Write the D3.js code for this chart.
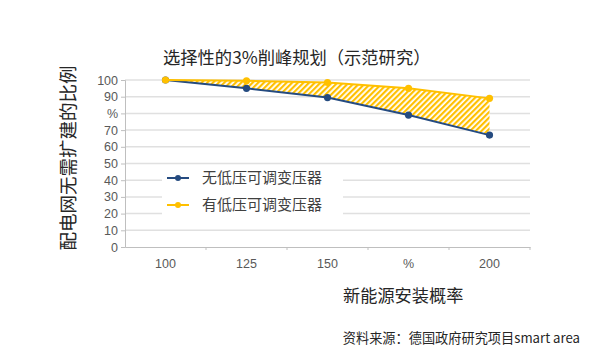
<!DOCTYPE html>
<html><head><meta charset="utf-8">
<script src="https://cdn.jsdelivr.net/npm/d3@7"></script>
<style>body{margin:0;background:#fff;}svg{display:block;font-family:"Noto Sans CJK SC","Liberation Sans",sans-serif;}</style>
</head><body>
<script>
const categories = ["100","125","150","%","200"];
const seriesNames = ["无低压可调变压器","有低压可调变压器"];
const noTransformer = [100, 95, 89.5, 79, 67];
const withTransformer = [100, 99.5, 98.5, 95, 89];
const yTicks = [0,10,20,30,40,50,60,70,80,90,100];
const yTickLabels = ["0","10","20","30","40","50","60","70","%","90","100"];

const W=600,H=361;
const svg=d3.select("body").append("svg").attr("width",W).attr("height",H);
const defs=svg.append("defs");
const pat=defs.append("pattern").attr("id","hatch").attr("patternUnits","userSpaceOnUse")
  .attr("width",4).attr("height",4).attr("patternTransform","rotate(45)");
pat.append("rect").attr("width",4).attr("height",4).attr("fill","#fff");
pat.append("rect").attr("width",2.2).attr("height",4).attr("fill","#FFC000");

const x=d3.scaleBand().domain(categories).range([125,530]);
const y=d3.scaleLinear().domain([0,100]).range([247,80]);
const cx=d=>x(d)+x.bandwidth()/2;

// gridlines
svg.append("g").selectAll("line").data(yTicks.filter(t=>t>0)).join("line")
  .attr("x1",125).attr("x2",530).attr("y1",d=>y(d)).attr("y2",d=>y(d))
  .attr("stroke","#e0e0e0").attr("stroke-width",1.5);

// y axis
const yAxis=d3.axisLeft(y).tickValues(yTicks).tickSize(4).tickFormat((d,i)=>yTickLabels[i]);
const gy=svg.append("g").attr("transform","translate(125,0)").call(yAxis);
gy.select(".domain").attr("stroke","#bfbfbf");
gy.selectAll(".tick line").attr("stroke","#bfbfbf");
gy.selectAll("text").attr("fill","#595959").attr("font-size",12.5).attr("font-family","Liberation Sans, Arial, sans-serif").attr("x",-7);

// x axis
const xAxis=d3.axisBottom(x).tickSize(0).tickPadding(12);
const gx=svg.append("g").attr("transform","translate(0,247)").call(xAxis);
gx.select(".domain").attr("stroke","#bfbfbf");
gx.selectAll("text").attr("fill","#595959").attr("font-size",12.5).attr("font-family","Liberation Sans, Arial, sans-serif");
gx.append("g").selectAll("line").data(categories).join("line")
  .attr("x1",d=>x(d)+x.bandwidth()).attr("x2",d=>x(d)+x.bandwidth()).attr("y1",0).attr("y2",3)
  .attr("stroke","#bfbfbf");

// area between
const area=d3.area().x((d,i)=>cx(categories[i])).y0((d,i)=>y(noTransformer[i])).y1(d=>y(d));
svg.append("path").datum(withTransformer).attr("d",area).attr("fill","url(#hatch)");

const line=d3.line().x((d,i)=>cx(categories[i])).y(d=>y(d));
const colors=["#254B80","#FFC000"];
[noTransformer,withTransformer].forEach((s,k)=>{
  svg.append("path").datum(s).attr("d",line).attr("fill","none").attr("stroke",colors[k]).attr("stroke-width",2);
  svg.append("g").selectAll("circle").data(s).join("circle")
    .attr("cx",(d,i)=>cx(categories[i])).attr("cy",d=>y(d)).attr("r",3.6).attr("fill",colors[k]);
});

// legend
const lg=svg.append("g");
lg.append("rect").attr("x",162).attr("y",167).attr("width",181).attr("height",50).attr("fill","#fff");
seriesNames.forEach((n,k)=>{
  const yy=178+k*27;
  lg.append("line").attr("x1",167).attr("x2",189).attr("y1",yy).attr("y2",yy).attr("stroke",colors[k]).attr("stroke-width",2);
  lg.append("circle").attr("cx",178).attr("cy",yy).attr("r",3).attr("fill",colors[k]);
  lg.append("text").attr("x",202).attr("y",yy).attr("dy","0.36em").attr("font-size",15).attr("fill","#404040").text(n);
});

// titles
svg.append("text").attr("x",163).attr("y",58).attr("dy","0.36em").attr("font-size",17.3).attr("fill","#262626").text("选择性的3%削峰规划（示范研究）");
svg.append("text").attr("transform","translate(68,158) rotate(-90)").attr("text-anchor","middle").attr("dy","0.36em")
  .attr("font-size",18.5).attr("fill","#262626").text("配电网无需扩建的比例");
svg.append("text").attr("x",343).attr("y",296).attr("dy","0.36em").attr("font-size",17.2).attr("fill","#262626").text("新能源安装概率");
svg.append("text").attr("x",580).attr("y",338).attr("dy","0.36em").attr("text-anchor","end").attr("font-size",13.2).attr("fill","#262626").text("资料来源：德国政府研究项目smart area");
</script>
</body></html>
